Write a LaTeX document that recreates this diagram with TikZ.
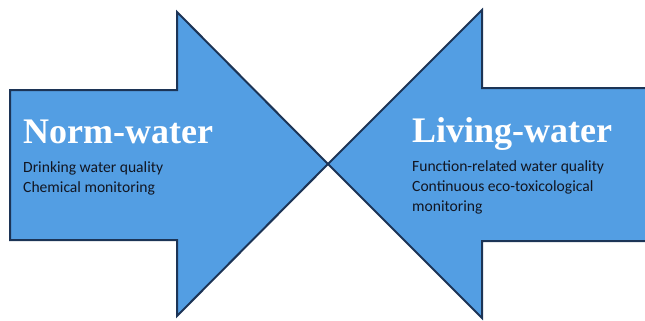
\documentclass[tikz,border=0pt]{standalone}
\usepackage{fontspec}
\setmainfont{Carlito}
\newfontfamily\titlefont{Liberation Serif}
\definecolor{arrowfill}{RGB}{83,158,227}
\definecolor{arrowline}{RGB}{28,52,86}
\definecolor{bodyink}{RGB}{18,22,34}
\begin{document}
\begin{tikzpicture}[x=1pt,y=-1pt,
  bigarrow/.style={fill=arrowfill,draw=arrowline,line width=2pt,line join=miter},
  heading/.style={anchor=base west,inner sep=0pt,text=white,font=\titlefont\bfseries\fontsize{36}{40}\selectfont},
  bodytext/.style={anchor=base west,inner sep=0pt,text=bodyink,align=left,font=\fontsize{15.6}{20}\selectfont}]
\useasboundingbox (0,0) rectangle (645,321);
\clip (0,0) rectangle (645,321);
% arrow pointing right
\draw[bigarrow] (10,90) -- (177,90) -- (177,12) -- (328,164) -- (177,316) -- (177,240) -- (10,240) -- cycle;
% arrow pointing left, its shaft running past the right edge
\draw[bigarrow] (660,88) -- (482,88) -- (482,10) -- (328,164) -- (482,318) -- (482,241) -- (660,241) -- cycle;
% labels (a multi-line node sits on the baseline of its last line)
\node[heading] (normtitle) at (23,143) {Norm-water};
\node[bodytext] (normbody) at (23,192) {Drinking water quality\\Chemical monitoring};
\node[heading] (livtitle) at (412,142) {Living-water};
\node[bodytext] (livbody) at (412,211) {Function-related water quality\\Continuous eco-toxicological\\monitoring};
\end{tikzpicture}
\end{document}
